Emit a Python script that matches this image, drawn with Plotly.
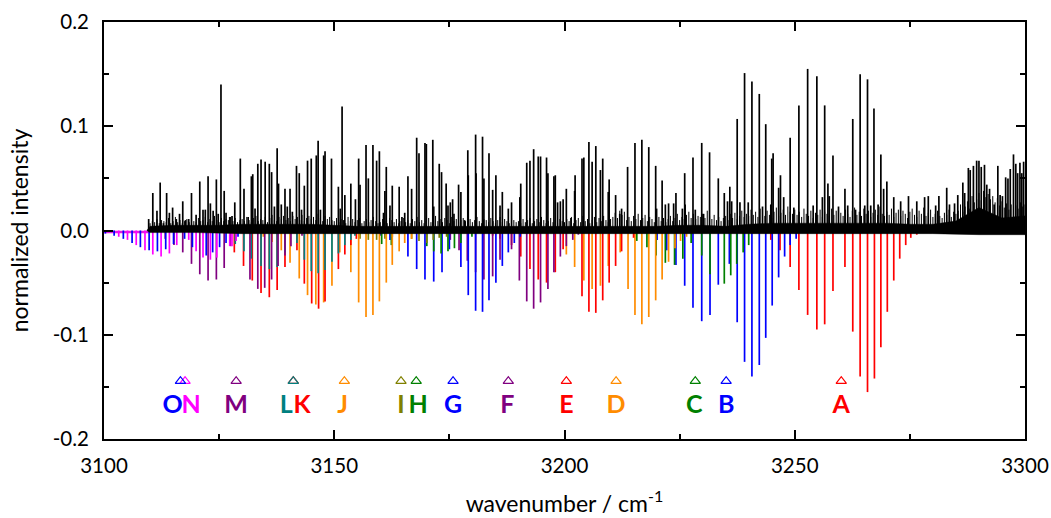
import plotly.graph_objects as go

# ---- experimental spectrum (upward, black): strong lines
exp_wn = [3109.7,3110.6,3111.5,3112.2,3112.9,3113.6,3114.2,3114.9,3115.7,3116.4,3117.1,3117.7,3118.4,3119.0,3120.0,3120.8,3121.5,3122.0,3122.6,3123.1,3123.7,3124.4,3124.8,3125.4,3126.1,3126.5,3127.3,3127.8,3128.4,3129.6,3130.4,3131.3,3132.0,3132.3,3132.8,3133.4,3134.1,3135.0,3135.9,3136.4,3137.0,3137.6,3137.9,3138.5,3139.3,3139.8,3140.4,3140.9,3141.8,3142.4,3142.9,3143.5,3144.2,3145.0,3146.1,3146.5,3147.0,3147.7,3148.0,3149.4,
          3150.9,3151.3,3151.7,3152.3,3153.6,3154.6,3155.3,3155.6,3156.9,3157.4,3158.4,3159.2,3159.8,3160.7,3161.0,3161.3,3162.1,3162.6,3164.1,3164.7,3165.3,3166.0,3166.8,3167.9,3168.4,3169.7,3170.0,3171.4,3171.6,3172.8,3173.3,3174.3,3174.7,3175.2,3175.7,3176.0,3177.0,3177.5,3178.3,3179.0,3179.1,3180.7,3180.8,3182.2,3182.5,3183.6,3184.4,3185.1,3186.0,3186.5,3187.8,3188.5,3190.3,3190.5,3191.8,3192.5,3193.3,3194.3,3194.8,3196.1,3196.4,3197.7,3198.0,3198.5,3199.1,3199.7,3200.4,
          3201.4,3202.2,3202.3,3203.8,3204.2,3205.3,3206.0,3206.8,3207.8,3208.3,3209.5,3209.7,3211.1,3212.0,3212.4,3213.7,3215.3,3216.8,3218.3,3219.8,3220.0,3221.2,3221.9,3222.6,3223.7,3224.2,3225.6,3226.1,3226.2,3227.9,3228.4,3229.8,3230.2,3231.5,3233.4,3234.7,3235.4,3235.9,3236.3,3237.5,3238.1,3239.1,3239.9,3240.7,3242.3,3243.0,3243.7,3244.8,3245.0,3245.3,3246.5,3246.9,3247.6,3249.0,3249.8,3250.9,
          3252.8,3254.0,3254.8,3256.0,3256.5,3257.2,3257.5,3258.3,3259.5,3260.9,3261.5,3262.6,3263.2,3264.2,3265.2,3265.8,3266.5,3267.2,3268.1,3268.7,3269.3,3270.0,3271.5,3273.0,3274.7,3276.5,3278.2,3279.0,3280.6,3281.3,3283.0,3283.6,3284.7,3285.4,3286.5,3286.9,3287.7,3288.1,3288.8,3289.5,3290.0,3290.5,3291.2,3291.7,3292.3,3293.3,3294.1,3294.6,3295.1,3295.8,3296.3,3296.8,3297.5,3298.0,3298.4,3298.9,3299.3,3299.7]
exp_int = [.011,.036,.019,.046,.007,.036,.017,.022,.011,.016,.028,.010,.011,.036,.015,.047,.020,.020,.052,.026,.019,.049,.016,.140,.038,.017,.013,.014,.027,.069,.040,.013,.052,.054,.021,.064,.068,.066,.064,.056,.023,.079,.045,.025,.040,.023,.040,.018,.062,.055,.020,.043,.067,.069,.072,.086,.020,.072,.076,.069,
           .042,.021,.119,.034,.045,.030,.069,.044,.082,.050,.082,.067,.076,.017,.038,.061,.024,.043,.042,.013,.017,.052,.040,.089,.074,.084,.083,.087,.023,.064,.056,.045,.024,.027,.030,.016,.044,.037,.010,.077,.053,.092,.055,.090,.050,.074,.039,.053,.024,.037,.021,.027,.032,.045,.065,.067,.078,.071,.071,.070,.055,.052,.053,.027,.028,.030,.040,
           .012,.038,.053,.069,.070,.085,.066,.081,.058,.069,.037,.049,.034,.016,.021,.061,.084,.087,.080,.062,.021,.048,.025,.026,.026,.036,.021,.055,.025,.070,.020,.084,.016,.075,.050,.036,.028,.042,.028,.107,.027,.151,.027,.143,.131,.023,.102,.025,.069,.074,.041,.053,.032,.089,.022,.120,
           .155,.024,.148,.032,.120,.045,.033,.072,.023,.040,.024,.107,.020,.150,.024,.145,.024,.117,.025,.073,.040,.047,.032,.028,.033,.028,.032,.033,.024,.033,.041,.025,.026,.034,.046,.036,.060,.058,.062,.067,.067,.061,.063,.044,.040,.025,.062,.034,.033,.051,.050,.059,.073,.064,.055,.065,.055,.066]

# ---- weak dense lines of the experiment, one value per half wavenumber from 3110 (units of 0.001)
grass_start = 3109.3
grass_lines = [7,9,8,11,7,10,9,8,12,7,9,13,8,10,7,9,11,8,10,9,
               8,12,9,10,13,8,11,9,14,10,8,12,9,11,10,13,9,12,8,10,
               11,9,13,10,8,12,14,9,11,10,13,8,12,15,10,9,13,11,14,10,
               12,9,14,11,13,10,15,9,12,14,11,13,10,16,12,9,14,11,13,10,
               9,12,8,11,10,7,13,9,11,8,10,12,7,9,11,8,10,13,9,7,
               8,11,9,7,12,10,8,11,7,9,12,8,10,7,11,9,13,8,10,7,
               9,12,8,10,14,9,11,8,12,10,7,13,9,11,8,10,12,9,7,11,
               8,10,13,9,7,11,10,8,12,9,7,10,13,8,11,9,7,12,10,8,
               9,7,11,8,10,12,7,9,11,8,13,10,7,9,12,8,10,7,11,9,
               8,11,9,13,7,10,12,8,14,9,11,7,10,13,8,12,9,14,10,8,
               11,13,17,12,19,15,18,10,13,9,14,11,16,10,12,15,9,13,11,8,
               10,13,9,12,8,11,14,9,12,16,10,13,11,15,18,12,16,11,14,13,
               16,12,19,14,11,15,10,13,9,12,14,10,16,12,17,11,14,19,13,16,
               14,20,15,18,13,21,16,14,19,15,12,18,22,14,17,20,15,23,18,16,
               20,15,18,13,21,16,14,19,12,17,15,20,13,18,16,14,21,15,19,13,
               17,14,20,16,13,19,22,15,18,14,21,16,19,13,17,20,15,23,16,14,
               18,15,21,13,17,20,14,19,16,12,18,21,15,13,19,16,22,14,17,20,
               13,16,19,14,12,17,15,20,13,18,16,19,25,18,23,28,21,33,27,30,
               36,29,38,32,35,30,33,27,31,24,28,22,26,20,25,19,24,21,27,23,
               25]
# solid central band of the experiment: upper edge every 5, lower edge every 10 wavenumbers (units of 0.001)
core_top = [4,5,5,5,6,6,6,6,5,4,4,4,4,4,4,4,4,4,4,4,4,4,4,5,5,4,6,7,7,7,7,7,7,6,6,9,22,12,14]
core_low = [2,2,3,3,3,3,3,3,3,3,3,3,3,3,3,3,3,3,4,4]
# simulated baseline before the first experimental line
baseline_wn = [3100,3110]
baseline_y = [-0.0015,-0.0015]

# ---- simulated bands (drawn downward)
A_wn = [3244.8,3246.8,3249.0,3250.9,3252.8,3254.8,3256.5,3258.3,3260.9,3262.6,3264.2,3265.8,3267.3,3268.7,3270.1,3271.5,3272.8,3274.1,3275.2,3276.5]
A_int = [.009,.019,.035,.057,.081,.095,.090,.058,.035,.097,.140,.155,.142,.112,.078,.048,.027,.014,.007,.004]
B_wn = [3220.1,3222.2,3224.2,3226.1,3227.9,3229.8,3231.6,3233.4,3235.8,3237.5,3239.1,3240.7,3242.3,3243.7,3245.1,3246.5,3247.8,3249.0,3250.3]
B_int = [.009,.019,.033,.053,.074,.087,.081,.052,.032,.088,.126,.140,.129,.103,.072,.045,.025,.014,.008]
C_wn = [3215.7,3217.9,3219.9,3221.9,3223.9,3225.7,3227.5,3229.8,3231.6,3234.7,3236.1,3237.4,3238.8,3240.0]
C_int = [.010,.016,.024,.031,.033,.027,.012,.024,.042,.051,.043,.032,.021,.014]
D_wn = [3200.4,3202.2,3204.2,3206.0,3207.8,3209.5,3212.1,3213.8,3215.3,3216.8,3218.3,3219.8,3221.2,3222.6,3224.0,3225.2,3226.5]
D_int = [.023,.035,.048,.056,.053,.034,.021,.056,.081,.090,.083,.067,.047,.030,.017,.010,.006]
E_wn = [3184.4,3186.0,3188.5,3190.5,3192.5,3194.3,3196.1,3198.0,3199.7,3203.8,3205.3,3206.8,3208.3,3209.7,3211.1,3212.4,3215.0]
E_int = [.005,.008,.014,.025,.037,.047,.050,.040,.018,.063,.078,.079,.067,.050,.034,.020,.007]
F_wn = [3175.2,3177.1,3178.9,3180.7,3182.5,3184.4,3186.0,3188.5,3190.2,3191.8,3193.3,3194.8,3196.4,3197.7,3199.1,3200.4,3201.8,3203.0]
F_int = [.009,.019,.029,.040,.047,.044,.028,.018,.048,.068,.075,.069,.056,.040,.025,.015,.009,.004]
G_wn = [3160.1,3162.1,3166.0,3167.9,3169.7,3171.6,3173.4,3175.0,3177.5,3179.1,3180.7,3182.2,3183.6,3185.1,3186.5,3187.8,3189.1,3190.4]
G_int = [.005,.009,.025,.037,.047,.049,.040,.018,.035,.062,.077,.078,.067,.050,.034,.021,.012,.006]
H_wn = [3160.3,3162.4,3170.1,3171.6,3173.2,3174.7,3176.1,3177.5,3179.9]
H_int = [.013,.014,.015,.020,.022,.020,.017,.012,.006]
I_wn = [3155.6,3157.4,3159.2,3161.0,3162.6,3166.8,3168.4,3170.1,3171.5,3172.8,3174.4]
I_int = [.008,.009,.009,.008,.006,.008,.010,.012,.009,.007,.006]
J_wn = [3134.6,3136.5,3138.5,3140.4,3142.4,3144.2,3146.0,3147.7,3149.5,3151.2,3153.6,3155.3,3156.9,3158.4,3159.8,3161.3,3162.6,3164.1,3165.3,3166.8]
J_int = [.006,.011,.019,.031,.046,.062,.071,.069,.053,.021,.040,.069,.083,.081,.068,.050,.033,.020,.012,.008]
K_wn = [3128.3,3130.3,3132.2,3134.1,3135.9,3137.6,3139.3,3141.9,3143.5,3145.1,3146.6,3148.0,3150.9,3152.3,3153.6,3154.8]
K_int = [.021,.034,.048,.060,.064,.057,.035,.019,.051,.070,.075,.068,.037,.023,.014,.008]
L_wn = [3128.5,3130.4,3132.0,3134.1,3135.9,3137.6,3139.3,3141.9,3143.5,3145.0,3146.5,3148.0,3149.5,3150.9,3152.3,3153.6,3154.5]
L_int = [.013,.020,.027,.034,.037,.035,.021,.012,.028,.039,.041,.038,.030,.022,.014,.009,.005]
M_wn = [3113.3,3115.2,3117.1,3119.0,3120.8,3122.6,3124.4,3126.1,3127.5,3131.7,3133.4,3134.9,3136.4,3137.8,3139.3,3140.6,3143.0]
M_int = [.008,.014,.021,.032,.042,.048,.047,.036,.015,.047,.056,.055,.047,.034,.024,.015,.005]
N_wn = [3101.3,3103.2,3105.1,3107.0,3108.9,3110.6,3112.4,3114.2,3115.8,3118.4,3120.0,3121.5,3123.1,3124.5,3127.3,3127.8,3128.7]
N_int = [.002,.006,.009,.014,.019,.023,.025,.022,.014,.009,.020,.026,.028,.026,.015,.015,.010]
O_wn = [3100.3,3102.2,3104.2,3106.1,3107.9,3109.8,3111.6,3113.4,3115.1,3117.5,3119.2,3122.2,3123.6,3125.1,3126.5,3129.1]
O_int = [.003,.005,.008,.012,.016,.019,.020,.018,.013,.008,.016,.024,.021,.016,.012,.006]

band_letters = ["A","B","C","D","E","F","G","H","I","J","K","L","M","N","O"]
band_wn = [A_wn,B_wn,C_wn,D_wn,E_wn,F_wn,G_wn,H_wn,I_wn,J_wn,K_wn,L_wn,M_wn,N_wn,O_wn]
band_int = [A_int,B_int,C_int,D_int,E_int,F_int,G_int,H_int,I_int,J_int,K_int,L_int,M_int,N_int,O_int]
band_colors = ["#ff0000","#0000ff","#008000","#ff8c00","#ff0000","#800080","#0000ff","#008000",
               "#808000","#ff8c00","#ff0000","#008080","#800080","#ff00ff","#0000ff"]
# band origins (triangles) and label positions
origin_wn = [3260.1,3235.1,3228.4,3211.2,3200.4,3187.8,3175.8,3167.8,3164.5,3152.2,3141.1,3141.1,3128.7,3117.6,3116.6]
origin_y = -0.1445
label_wn = [3260.1,3235.1,3228.2,3211.2,3200.4,3187.6,3175.8,3168.2,3164.5,3151.8,3143.0,3139.6,3128.7,3118.9,3114.9]
label_y = -0.1695

x_ticks = [3100,3150,3200,3250,3300]
y_ticks = [0.2,0.1,0.0,-0.1,-0.2]
y_labels = ["0.2","0.1","0.0","-0.1","-0.2"]

FONT = "Lato, sans-serif"
fig = go.Figure()

def sticks(xs, ys, sign):
    sx, sy = [], []
    for x, y in zip(xs, ys):
        sx += [x, x, None]
        sy += [0, sign*y, None]
    return sx, sy

fig.add_trace(go.Scatter(x=baseline_wn, y=baseline_y, mode="lines", line=dict(color="#e020e0", width=2.5), hoverinfo="skip"))

for wn, inten, col in zip(band_wn, band_int, band_colors):
    sx, sy = sticks(wn, inten, -1)
    fig.add_trace(go.Scatter(x=sx, y=sy, mode="lines", line=dict(color=col, width=1.7), hoverinfo="skip"))

sx, sy = sticks(exp_wn, exp_int, 1)
fig.add_trace(go.Scatter(x=sx, y=sy, mode="lines", line=dict(color="black", width=1.7), hoverinfo="skip"))

gw = [3110 + 0.5*i for i in range(len(grass_lines))]
sx, sy = sticks(gw, [v/1000 for v in grass_lines], 1)
fig.add_trace(go.Scatter(x=sx, y=sy, mode="lines", line=dict(color="black", width=1.0), hoverinfo="skip"))

gx = [grass_start] + [3110 + 5*i for i in range(len(core_top))]
gy = [0] + [v/1000 for v in core_top]
lx = [3300 - 10*i for i in range(len(core_low))] + [grass_start]
ly = [-v/1000 for v in reversed(core_low)] + [0]
fig.add_trace(go.Scatter(x=gx+lx, y=gy+ly, mode="lines", fill="toself", fillcolor="black",
                         line=dict(color="black", width=0.5), hoverinfo="skip"))

for i, letter in enumerate(band_letters):
    fig.add_trace(go.Scatter(x=[origin_wn[i]], y=[origin_y], mode="markers",
                             marker=dict(symbol="triangle-up-open", size=9, color=band_colors[i], line=dict(width=1.2, color=band_colors[i])),
                             hoverinfo="skip"))
    fig.add_trace(go.Scatter(x=[label_wn[i]], y=[label_y], mode="text", text=[f"<b>{letter}</b>"],
                             textposition="middle center",
                             textfont=dict(family=FONT, size=25, color=band_colors[i]), hoverinfo="skip"))

axis_common = dict(showgrid=False, zeroline=False, showline=True, linecolor="black", linewidth=2,
                   mirror="allticks", ticks="inside", ticklen=9, tickwidth=2, tickcolor="black",
                   tickfont=dict(family=FONT, size=20.5, color="black"))
fig.update_xaxes(range=[3100,3300], tickvals=x_ticks, ticktext=[str(t) for t in x_ticks], ticklabelstandoff=7,
                 minor=dict(tickvals=[3125,3175,3225,3275], ticks="inside", ticklen=5, tickwidth=1.5, tickcolor="black"),
                 title=dict(text="wavenumber / cm<sup>-1</sup>", font=dict(family=FONT, size=23, color="black"), standoff=20),
                 **axis_common)
fig.update_yaxes(range=[-0.2,0.2], tickvals=y_ticks, ticktext=y_labels, ticklabelstandoff=9,
                 minor=dict(tickvals=[-0.15,-0.05,0.05,0.15], ticks="inside", ticklen=5, tickwidth=1.5, tickcolor="black"),
                 title=dict(text="normalized intensity", font=dict(family=FONT, size=23, color="black"), standoff=18),
                 **axis_common)
fig.update_layout(width=1051, height=518, showlegend=False, paper_bgcolor="white", plot_bgcolor="white",
                  margin=dict(l=104, r=26, t=22, b=79, autoexpand=False))
fig.write_html("out.html", config={"displayModeBar": False}, post_script="document.body.style.margin='0';")
